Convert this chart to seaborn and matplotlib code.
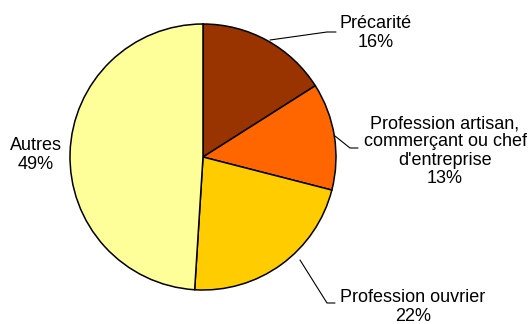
import matplotlib
matplotlib.use("Agg")
import matplotlib.pyplot as plt
import seaborn as sns

categories = ["Précarité", "Profession artisan,\ncommerçant ou chef\nd'entreprise", "Profession ouvrier", "Autres"]
values = [16, 13, 22, 49]
colors = ["#993300", "#FF6600", "#FFCC00", "#FFFF99"]

sns.set_theme(style="white")
plt.rcParams['font.family'] = ['Liberation Sans', 'DejaVu Sans']

W, H = 532, 324
fig = plt.figure(figsize=(W / 100, H / 100), dpi=100)
ax = fig.add_axes([0, 0, 1, 1])

cx, cy, r = 203, H - 157, 133
ax.pie(values, colors=colors, startangle=90, counterclock=False,
       center=(cx, cy), radius=r, frame=True,
       wedgeprops=dict(edgecolor='black', linewidth=1.1))
ax.set_xlim(0, W)
ax.set_ylim(0, H)
ax.set_aspect('equal')
ax.axis('off')

fs = 13.0
labels_pos = [(376, 33), (445, 151), (413, 307), (36, 155)]
for (name, v, (px, py)) in zip(categories, values, labels_pos):
    ax.text(px, H - py, f"{name}\n{v}%", ha='center', va='center',
            fontsize=fs, color='black', linespacing=1.1)

leaders = [
    [(270, 40), (327, 32), (336, 32)],
    [(335, 136), (350, 148), (358, 148)],
    [(300, 260), (327, 303), (335, 303)],
]
for pts in leaders:
    xs = [p[0] for p in pts]
    ys = [H - p[1] for p in pts]
    ax.plot(xs, ys, color='black', linewidth=0.8)

fig.savefig("out.png", dpi=100)
